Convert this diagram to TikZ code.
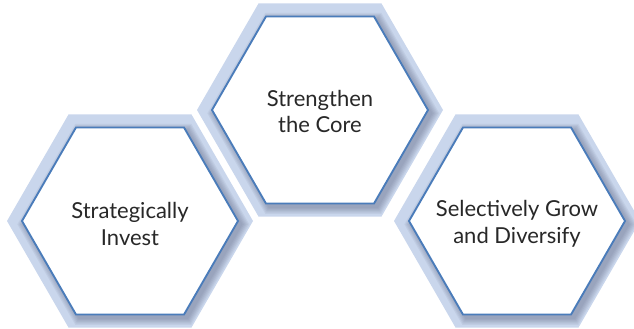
\documentclass[tikz,border=0pt]{standalone}
\usepackage{fontspec}
\setmainfont{Lato}
\usetikzlibrary{shapes.geometric}
\definecolor{hexline}{RGB}{74,124,186}
\definecolor{hexband}{RGB}{201,214,236}
\definecolor{hexshade}{RGB}{96,104,132}
\definecolor{hextext}{RGB}{40,40,40}

\begin{document}
\begin{tikzpicture}[
  x=0.75pt, y=0.75pt,
  hexa/.style={regular polygon, regular polygon sides=6, inner sep=0pt, outer sep=0pt},
  band/.style={hexa, minimum size=184.5pt, fill=hexband},
  shade/.style={hexa, fill=hexshade, opacity=0.09},
  cell/.style={hexa, minimum size=162pt, fill=white, draw=hexline, line width=1.4pt},
  txt/.style={align=center, text=hextext, inner sep=0pt, font=\fontsize{16.5}{20}\selectfont}
]
\useasboundingbox (0,0) rectangle (634,328);
% light bands behind the cells
\node[band] (bandL) at (130,107) {};
\node[band] (bandM) at (320,218) {};
\node[band] (bandR) at (517,107) {};
% soft shadow to the lower right
\foreach \c in {(130,107),(320,218),(517,107)}
  \foreach \s in {164,166,168,170,172,174}
    \node[shade, minimum size=\s pt, xshift=2.5pt, yshift=-2.5pt] at \c {};
% the three cells
\node[cell] (invest) at (130,107) {};
\node[cell] (core) at (320,218) {};
\node[cell] (grow) at (517,107) {};
\node[txt] (investText) at ([yshift=-2pt]invest.center) {Strategically\\Invest};
\node[txt] (coreText) at ([yshift=-1pt]core.center) {Strengthen\\the Core};
\node[txt] (growText) at ([yshift=-2pt]grow.center) {Selectively Grow\\and Diversify};
\end{tikzpicture}
\end{document}
